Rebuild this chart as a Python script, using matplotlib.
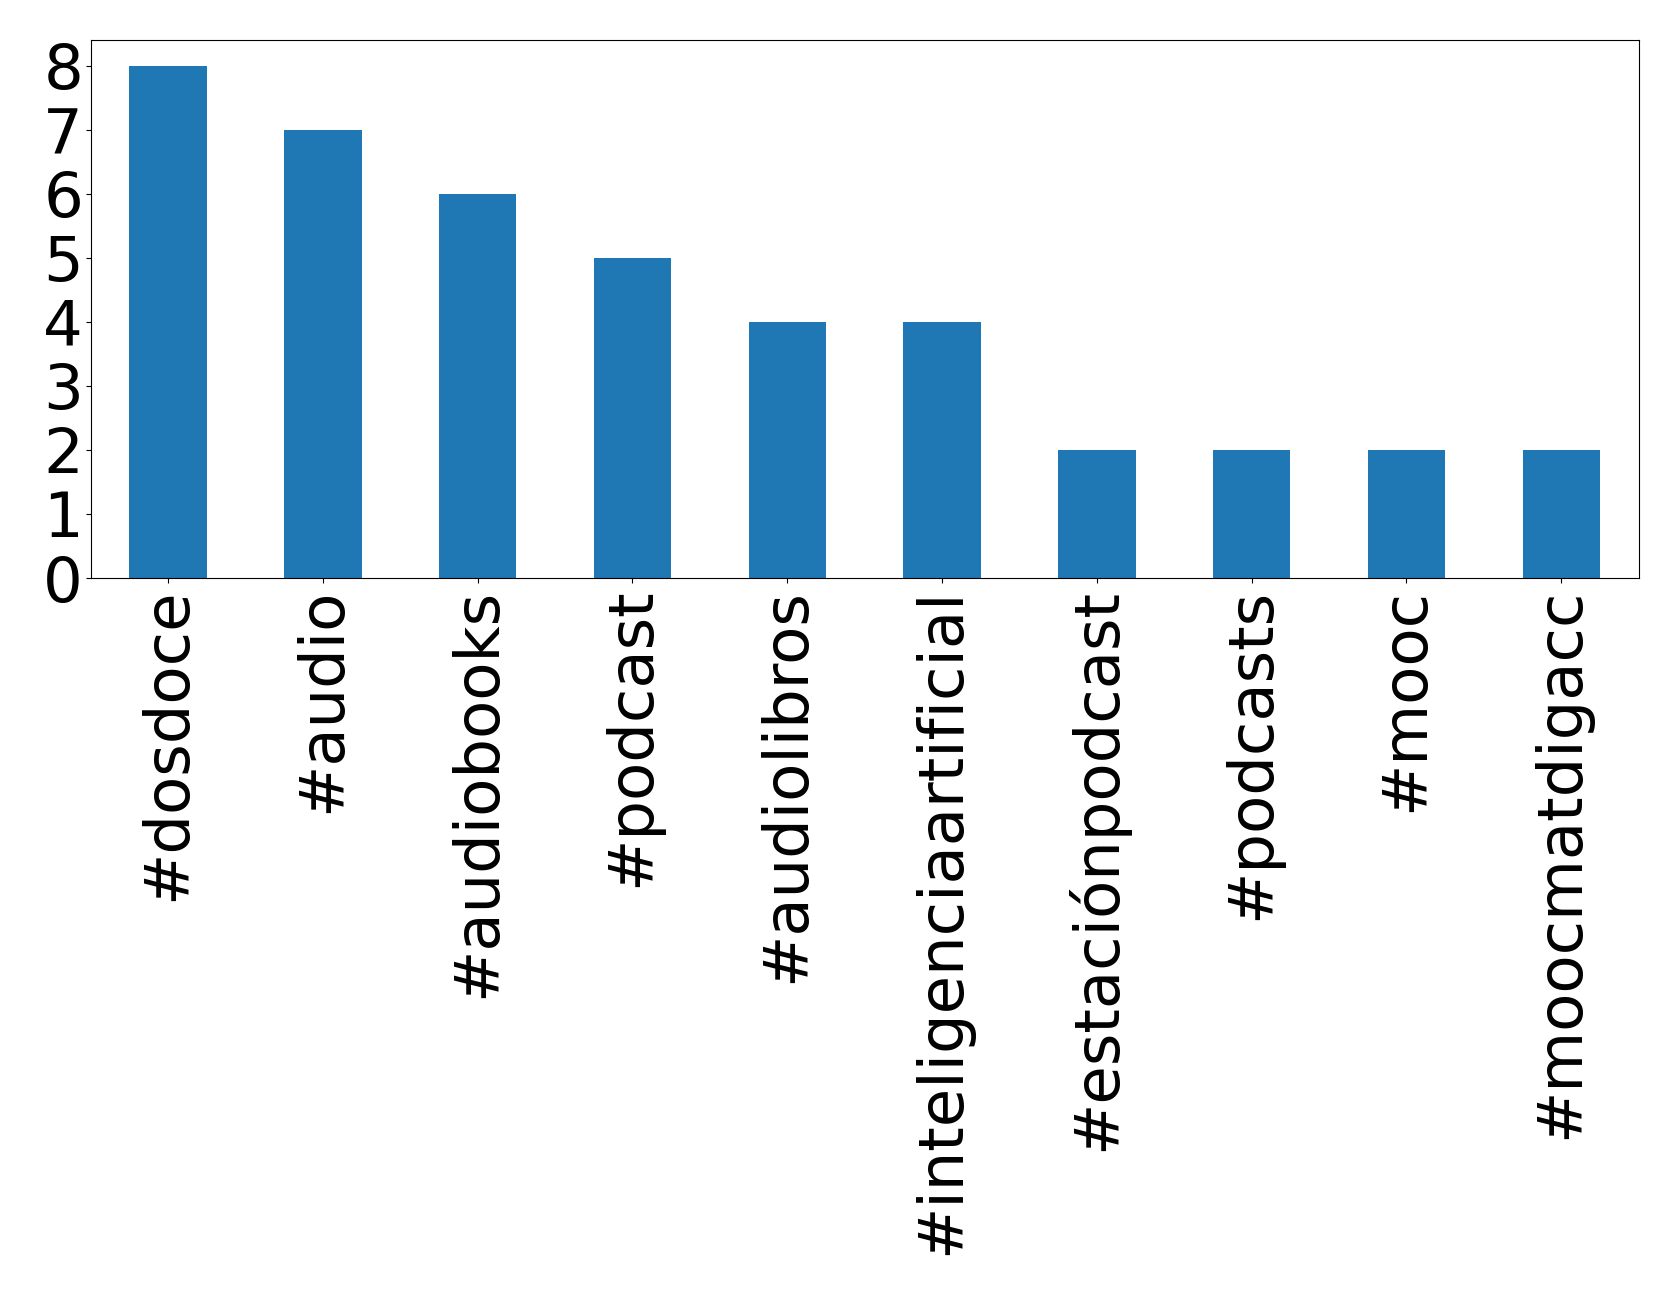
import matplotlib
matplotlib.use("Agg")
import matplotlib.pyplot as plt

# hashtags y su frecuencia
hashtags = ['#dosdoce', '#audio', '#audiobooks', '#podcast', '#audiolibros',
            '#inteligenciaartificial', '#estaciónpodcast', '#podcasts', '#mooc',
            '#moocmatdigacc']
counts = [8, 7, 6, 5, 4, 4, 2, 2, 2, 2]

fig = plt.figure(figsize=(16.79, 12.96), dpi=100)
ax = fig.add_axes([0.054, 0.554, 0.922, 0.415])
x = list(range(len(hashtags)))
ax.bar(x, counts, width=0.5, color='#1f77b4')
ax.set_xlim(-0.5, len(hashtags) - 0.5)
ax.set_ylim(0, 8.4)
ax.set_xticks(x)
ax.set_xticklabels(hashtags, rotation=90, fontsize=45)
ax.set_yticks(range(9))
ax.tick_params(axis='y', labelsize=45, pad=2)
fig.savefig('out.png', dpi=100)
